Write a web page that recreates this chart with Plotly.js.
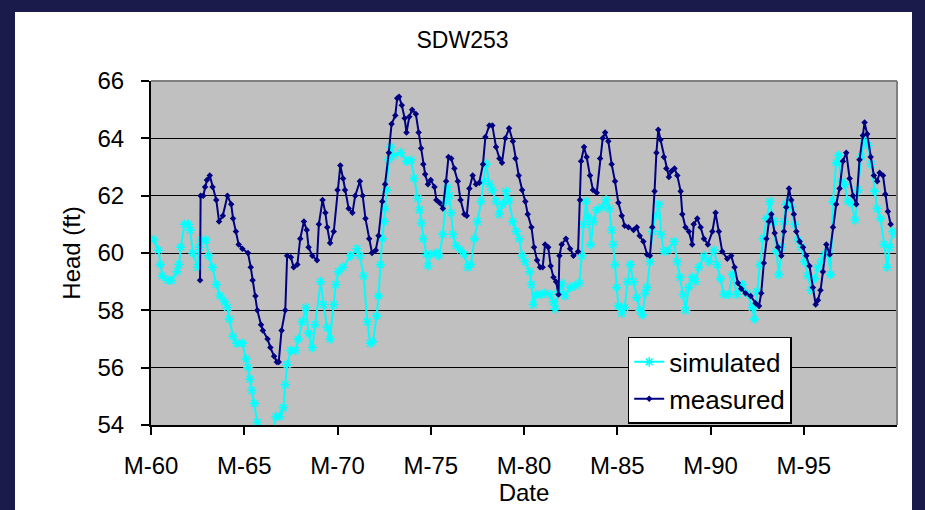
<!DOCTYPE html>
<html>
<head>
<meta charset="utf-8">
<script src="https://cdn.plot.ly/plotly-3.0.1.min.js"></script>
<style>
  html, body { margin: 0; padding: 0; background: #ffffff; }
  #wrap { position: relative; width: 925px; height: 510px; overflow: hidden; }
  #chart { position: absolute; left: 0; top: 0; width: 925px; height: 510px; }
  #frame { position: absolute; left: 0; top: 0; width: 925px; height: 510px; box-sizing: border-box;
           border-top: 12px solid #1a1a4b; border-left: 15px solid #1a1a4b; border-right: 13px solid #1a1a4b;
           pointer-events: none; }
</style>
</head>
<body>
<div id="wrap"><div id="chart"></div><div id="frame"></div></div>
<script>
const chartTitle = 'SDW253';
const tickYears = [1960, 1965, 1970, 1975, 1980, 1985, 1990, 1995];
const tickLabels = ['M-60', 'M-65', 'M-70', 'M-75', 'M-80', 'M-85', 'M-90', 'M-95'];

const simDates = [
1960.0,1960.15,1960.4,1960.5,1960.6,1960.9,1961.1,1961.4,1961.5,1961.6,1961.8,1962.0,1962.1,1962.25,1962.5,1962.6,1962.7,1962.95,
1963.1,1963.3,1963.5,1963.7,1963.95,1964.1,1964.2,1964.4,1964.6,1964.9,1965.1,1965.2,1965.3,1965.4,1965.55,1965.7,1965.9,1966.2,
1966.5,1966.7,1966.9,1967.1,1967.2,1967.3,1967.5,1967.75,1967.9,1968.1,1968.3,1968.45,1968.65,1968.8,1969.1,1969.25,1969.45,1969.6,
1969.8,1969.9,1970.05,1970.3,1970.7,1971.05,1971.2,1971.4,1971.6,1971.75,1971.9,1972.1,1972.2,1972.3,1972.4,1972.5,1972.55,1972.65,
1972.75,1972.85,1973.0,1973.4,1973.7,1973.95,1974.1,1974.3,1974.4,1974.5,1974.6,1974.75,1974.85,1975.0,1975.3,1975.45,1975.65,1975.8,
1975.9,1976.0,1976.1,1976.2,1976.35,1976.6,1976.8,1976.98,1977.15,1977.35,1977.5,1977.7,1977.83,1977.97,1978.15,1978.3,1978.5,1978.68,
1978.85,1979.04,1979.2,1979.4,1979.58,1979.75,1979.9,1980.07,1980.3,1980.4,1980.5,1980.65,1980.85,1981.13,1981.4,1981.58,1981.67,1981.85,
1982.02,1982.2,1982.47,1982.74,1982.97,1983.1,1983.19,1983.33,1983.45,1983.58,1983.72,1983.9,1984.17,1984.4,1984.58,1984.7,1984.79,1984.88,
1984.97,1985.06,1985.24,1985.4,1985.55,1985.7,1985.87,1986.05,1986.22,1986.35,1986.5,1986.6,1986.75,1986.88,1987.06,1987.24,1987.36,1987.5,
1987.72,1988.04,1988.22,1988.36,1988.54,1988.66,1988.84,1989.02,1989.2,1989.38,1989.65,1989.92,1990.18,1990.36,1990.54,1990.72,1990.99,1991.17,
1991.43,1991.7,1991.97,1992.24,1992.36,1992.5,1992.65,1992.83,1993.0,1993.18,1993.4,1993.53,1993.67,1993.8,1993.94,1994.06,1994.19,1994.33,
1994.51,1994.69,1994.87,1995.05,1995.22,1995.4,1995.58,1995.76,1995.94,1996.12,1996.3,1996.44,1996.57,1996.74,1996.87,1997.01,1997.19,1997.37,
1997.55,1997.76,1997.91,1998.08,1998.26,1998.44,1998.62,1998.8,1998.94,1999.12,1999.3,1999.48,1999.6,1999.78,2000.0];
const simHead = [
60.5,60.45,60.1,59.6,59.2,59.05,59.05,59.35,59.6,60.2,61.0,61.0,60.8,60.0,59.5,60.2,60.45,60.45,
59.9,59.5,58.9,58.5,58.3,58.1,57.7,57.1,56.85,56.85,56.3,56.0,55.6,55.2,54.75,54.1,53.6,53.3,
53.6,54.3,54.3,54.6,55.4,56.1,56.6,56.6,57.0,57.6,58.1,57.2,56.7,57.5,59.0,58.2,57.4,57.0,
58.2,58.9,59.35,59.5,59.9,60.15,59.9,59.2,57.6,56.85,56.9,57.8,58.5,59.6,60.5,61.1,61.55,62.2,
63.25,63.7,63.4,63.5,63.2,63.25,62.6,61.9,61.5,61.05,60.5,59.95,59.55,59.95,60.0,59.9,60.65,61.8,
62.3,62.0,61.4,60.65,60.25,60.1,59.95,59.5,59.6,60.5,61.1,61.8,62.5,63.1,62.4,62.2,61.8,61.35,
61.7,62.15,61.85,61.1,60.75,60.5,59.9,59.7,59.35,58.9,58.2,58.55,58.55,58.6,58.55,58.3,58.05,58.65,
58.95,58.5,58.8,58.85,58.95,59.9,61.0,61.8,61.25,60.3,61.1,61.5,61.6,61.85,61.55,60.8,60.3,59.6,
58.8,58.15,57.9,58.1,59.0,59.6,59.0,58.45,58.0,57.85,58.6,58.8,59.7,60.75,61.3,61.7,60.65,60.05,
60.1,60.4,59.7,59.15,58.55,58.0,58.8,59.15,59.0,59.5,59.9,59.7,60.1,59.6,59.1,58.55,58.55,59.25,
58.55,58.9,58.6,58.1,57.7,58.65,59.6,60.5,61.2,61.8,61.1,60.05,59.25,60.2,61.1,61.7,61.8,61.6,
61.0,60.45,60.2,59.7,59.2,58.7,59.1,59.5,59.7,59.95,60.05,59.25,61.8,63.15,63.4,62.5,62.4,61.8,
61.75,61.15,62.2,63.35,63.9,63.75,63.1,62.15,61.55,61.2,60.3,59.5,60.2,60.75,60.65];

const measDates = [
1962.63,1962.66,1962.8,1962.9,1963.0,1963.15,1963.3,1963.5,1963.65,1963.85,1964.1,1964.3,1964.4,1964.55,1964.7,1964.9,1965.2,1965.35,
1965.45,1965.6,1965.7,1965.9,1966.0,1966.25,1966.4,1966.6,1966.75,1966.85,1967.0,1967.2,1967.3,1967.5,1967.65,1967.85,1968.0,1968.2,
1968.35,1968.45,1968.65,1968.9,1969.0,1969.2,1969.35,1969.45,1969.6,1969.8,1970.0,1970.15,1970.3,1970.4,1970.6,1970.8,1970.95,1971.2,
1971.35,1971.5,1971.7,1971.85,1972.05,1972.2,1972.4,1972.55,1972.75,1972.9,1973.1,1973.2,1973.3,1973.45,1973.6,1973.7,1973.85,1974.0,
1974.2,1974.35,1974.48,1974.6,1974.7,1974.85,1975.0,1975.2,1975.3,1975.47,1975.65,1975.82,1975.95,1976.1,1976.27,1976.45,1976.6,1976.8,
1976.93,1977.07,1977.25,1977.43,1977.6,1977.8,1977.93,1978.14,1978.3,1978.5,1978.68,1978.82,1979.0,1979.2,1979.4,1979.54,1979.72,1979.9,
1980.07,1980.2,1980.4,1980.54,1980.7,1980.86,1981.0,1981.13,1981.3,1981.43,1981.58,1981.72,1981.85,1981.9,1982.02,1982.25,1982.47,1982.65,
1982.9,1983.0,1983.06,1983.22,1983.36,1983.54,1983.7,1983.9,1984.08,1984.22,1984.35,1984.52,1984.7,1984.88,1985.06,1985.24,1985.4,1985.6,
1985.87,1986.05,1986.2,1986.4,1986.6,1986.75,1986.88,1987.0,1987.1,1987.2,1987.32,1987.5,1987.63,1987.77,1987.9,1988.07,1988.22,1988.4,
1988.49,1988.66,1988.84,1989.02,1989.1,1989.29,1989.47,1989.65,1989.86,1990.1,1990.27,1990.45,1990.63,1990.9,1991.11,1991.29,1991.47,1991.65,
1991.88,1992.15,1992.42,1992.6,1992.72,1992.86,1993.0,1993.13,1993.26,1993.44,1993.62,1993.8,1993.94,1994.06,1994.21,1994.33,1994.47,1994.6,
1994.78,1994.96,1995.14,1995.31,1995.49,1995.64,1995.76,1995.9,1996.03,1996.21,1996.39,1996.57,1996.74,1996.92,1997.1,1997.28,1997.46,1997.64,
1997.82,1997.99,1998.17,1998.26,1998.4,1998.59,1998.76,1998.94,1999.07,1999.25,1999.37,1999.51,1999.66];
const measHead = [
59.05,62.0,62.0,62.3,62.55,62.7,62.3,61.85,61.1,61.3,62.0,61.7,61.2,60.75,60.3,60.15,60.0,59.5,
59.05,58.5,58.0,57.5,57.3,57.0,56.7,56.4,56.2,56.2,57.3,58.0,59.9,59.85,59.5,59.6,60.5,61.1,
60.8,60.2,59.9,59.75,61.0,61.85,61.4,60.9,60.35,60.75,62.2,63.05,62.6,62.2,61.55,61.4,62.0,62.5,
62.0,61.2,60.5,60.0,60.1,60.6,61.8,62.4,63.5,64.5,64.8,65.4,65.45,65.15,64.7,64.2,64.75,65.0,
64.85,64.2,63.65,63.1,62.75,62.4,62.55,62.3,61.85,61.75,61.55,62.5,63.35,63.3,62.95,62.5,61.85,61.35,
61.3,62.25,62.7,62.4,62.45,63.1,64.05,64.45,64.45,63.7,63.3,63.15,64.0,64.35,63.9,63.3,62.7,62.2,
61.8,61.35,60.9,60.2,59.75,59.5,59.5,60.3,60.2,59.55,59.15,59.0,58.55,59.9,60.3,60.5,60.15,59.9,
60.05,61.85,63.2,63.7,63.35,62.7,62.2,62.1,63.3,64.0,64.2,63.9,63.1,62.5,61.75,61.3,60.95,60.9,
60.8,60.9,60.6,60.4,59.95,59.9,60.9,62.15,63.5,64.3,63.95,63.35,62.95,62.65,62.85,62.95,62.7,62.15,
61.35,60.9,60.75,60.3,61.0,61.2,60.9,60.5,60.3,60.75,61.4,60.75,60.05,59.8,59.9,59.5,58.95,58.75,
58.6,58.5,58.25,58.15,58.6,59.65,60.5,61.1,61.35,60.7,60.2,59.9,60.75,61.6,62.25,61.85,61.35,60.75,
60.4,60.2,59.9,59.55,58.8,58.2,58.35,58.7,59.35,60.3,59.95,60.9,61.7,62.25,63.2,63.5,62.6,62.0,
61.7,63.25,64.1,64.55,64.15,63.35,62.7,62.5,62.8,62.7,62.05,61.45,61.0];

const fontFamily = '"Liberation Sans", Arial, sans-serif';

const traces = [
  {
    x: simDates, y: simHead, name: 'simulated', type: 'scatter', mode: 'lines+markers',
    line: { color: '#00ffff', width: 2 },
    marker: { symbol: 'asterisk-open', size: 8, color: '#00ffff', line: { color: '#00ffff', width: 1.5 } }
  },
  {
    x: measDates, y: measHead, name: 'measured', type: 'scatter', mode: 'lines+markers',
    line: { color: '#000080', width: 2 },
    marker: { symbol: 'diamond', size: 5, color: '#000080' }
  }
];

const layout = {
  width: 925, height: 510,
  margin: { l: 151, r: 28, t: 81, b: 85, pad: 0 },
  paper_bgcolor: '#ffffff', plot_bgcolor: '#c0c0c0',
  font: { family: fontFamily, color: '#000000', size: 24 },
  title: { text: chartTitle, font: { size: 23, family: fontFamily }, xref: 'container', x: 0.5, xanchor: 'center', yref: 'container', y: 0.922, yanchor: 'middle' },
  xaxis: {
    range: [1960, 2000], tickmode: 'array', tickvals: tickYears, ticktext: tickLabels,
    ticks: 'outside', ticklen: 8, tickwidth: 2, tickcolor: '#000000',
    showline: true, linecolor: '#000000', linewidth: 2, showgrid: false, zeroline: false,
    tickfont: { size: 24 }, ticklabelstandoff: 10,
    title: { text: 'Date', font: { size: 24 }, standoff: 2 }
  },
  yaxis: {
    range: [54, 66], tickmode: 'linear', tick0: 54, dtick: 2,
    ticks: 'outside', ticklen: 8, tickwidth: 2, tickcolor: '#000000',
    showline: true, linecolor: '#000000', linewidth: 2,
    showgrid: true, gridcolor: '#000000', gridwidth: 1, zeroline: false,
    tickfont: { size: 24 }, ticklabelstandoff: 12,
    title: { text: 'Head (ft)', font: { size: 24 }, standoff: 10 }
  },
  shapes: [
    { type: 'line', xref: 'paper', yref: 'paper', x0: 0, x1: 1, y0: 1, y1: 1, line: { color: '#808080', width: 2 } },
    { type: 'line', xref: 'paper', yref: 'paper', x0: 1, x1: 1, y0: 0, y1: 1, line: { color: '#808080', width: 2 } }
  ],
  legend: {
    x: 0.639, y: 0.256, xanchor: 'left', yanchor: 'top',
    bgcolor: '#ffffff', bordercolor: '#000000', borderwidth: 1.5,
    font: { size: 26 }
  },
  showlegend: true
};

Plotly.newPlot('chart', traces, layout, { staticPlot: true, displayModeBar: false });
</script>
</body>
</html>
